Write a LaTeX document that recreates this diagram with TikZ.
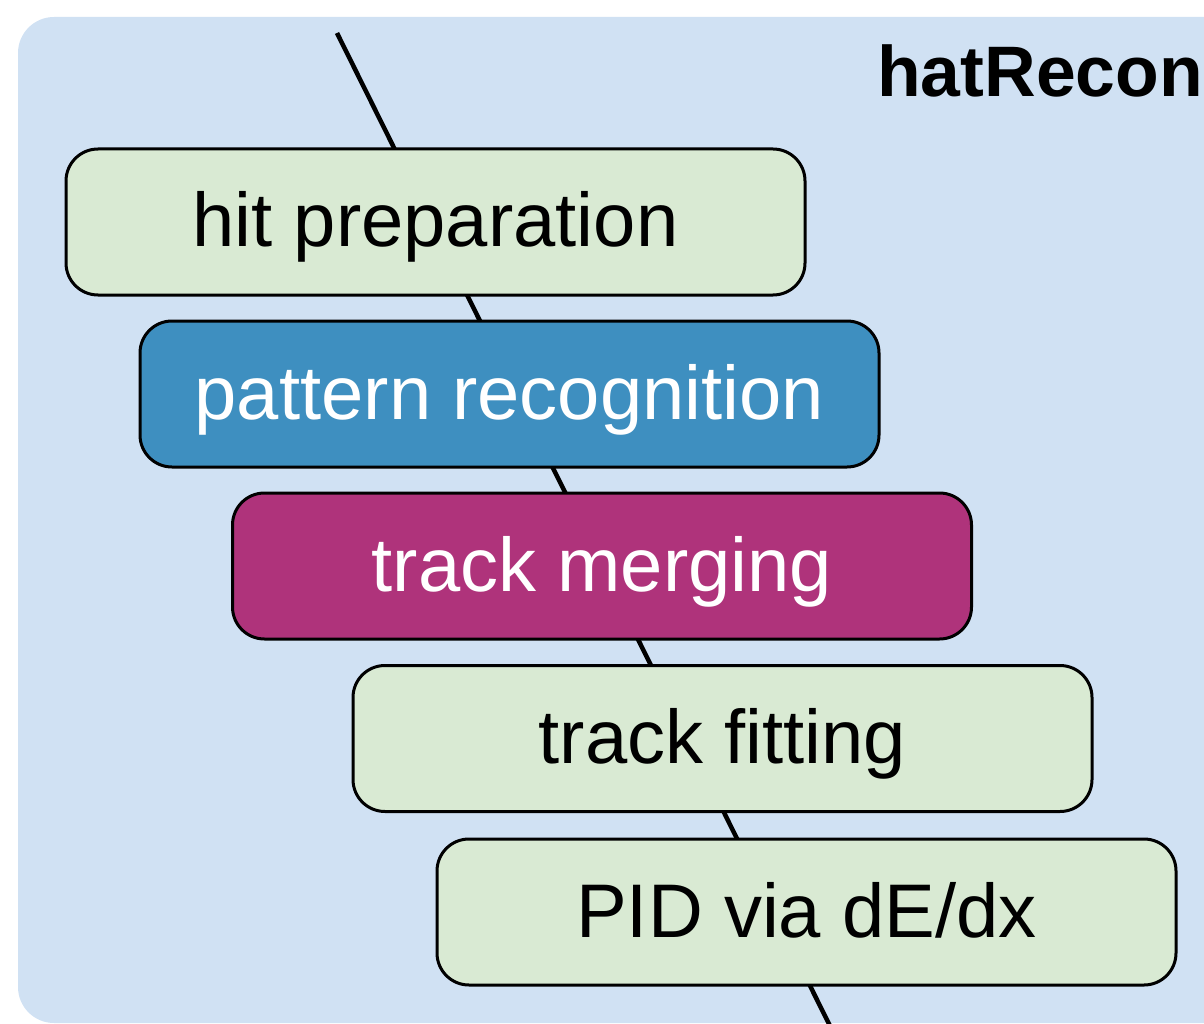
\documentclass[tikz,border=0pt]{standalone}
\usepackage{fontspec}
\setmainfont{Liberation Sans}
\definecolor{outerblue}{HTML}{D0E1F3}
\definecolor{stepgreen}{HTML}{D9EAD3}
\definecolor{stepblue}{HTML}{3E8FC0}
\definecolor{stepmagenta}{HTML}{AF337B}
\tikzset{
  stepbox/.style={draw=black, line width=3pt, rounded corners=32pt,
    minimum width=739pt, minimum height=146pt, inner sep=0pt,
    text height=50pt, text depth=0pt,
    font=\fontsize{76}{82}\selectfont},
  greenbox/.style={stepbox, fill=stepgreen, text=black},
  bluebox/.style={stepbox, fill=stepblue, text=white},
  magbox/.style={stepbox, fill=stepmagenta, text=white},
  flowline/.style={draw=black, line width=4.5pt}
}
\begin{document}
\begin{tikzpicture}[x=1pt,y=-1pt]
\useasboundingbox (0,0) rectangle (1204,1024);
\begin{scope}
\clip (0,0) rectangle (1204,1024);
\fill[outerblue, rounded corners=36pt] (18,17) rectangle (1300,1023);
\node[anchor=base west, inner sep=0pt, font=\bfseries\fontsize{71.5}{76}\selectfont] (title) at (877,97) {hatRecon};
\coordinate (top) at (337,33);
\coordinate (bot) at (832,1030);
\draw[flowline] (top) -- (bot);
\node[greenbox] (hit) at (435.5,222) {hit preparation};
\node[bluebox] (pat) at (509.5,394) {pattern recognition};
\node[magbox] (merge) at (602,566) {track merging};
\node[greenbox] (fit) at (722.5,738.5) {track fitting};
\node[greenbox] (pid) at (806.5,912) {PID via dE/dx};
\end{scope}
\end{tikzpicture}
\end{document}
